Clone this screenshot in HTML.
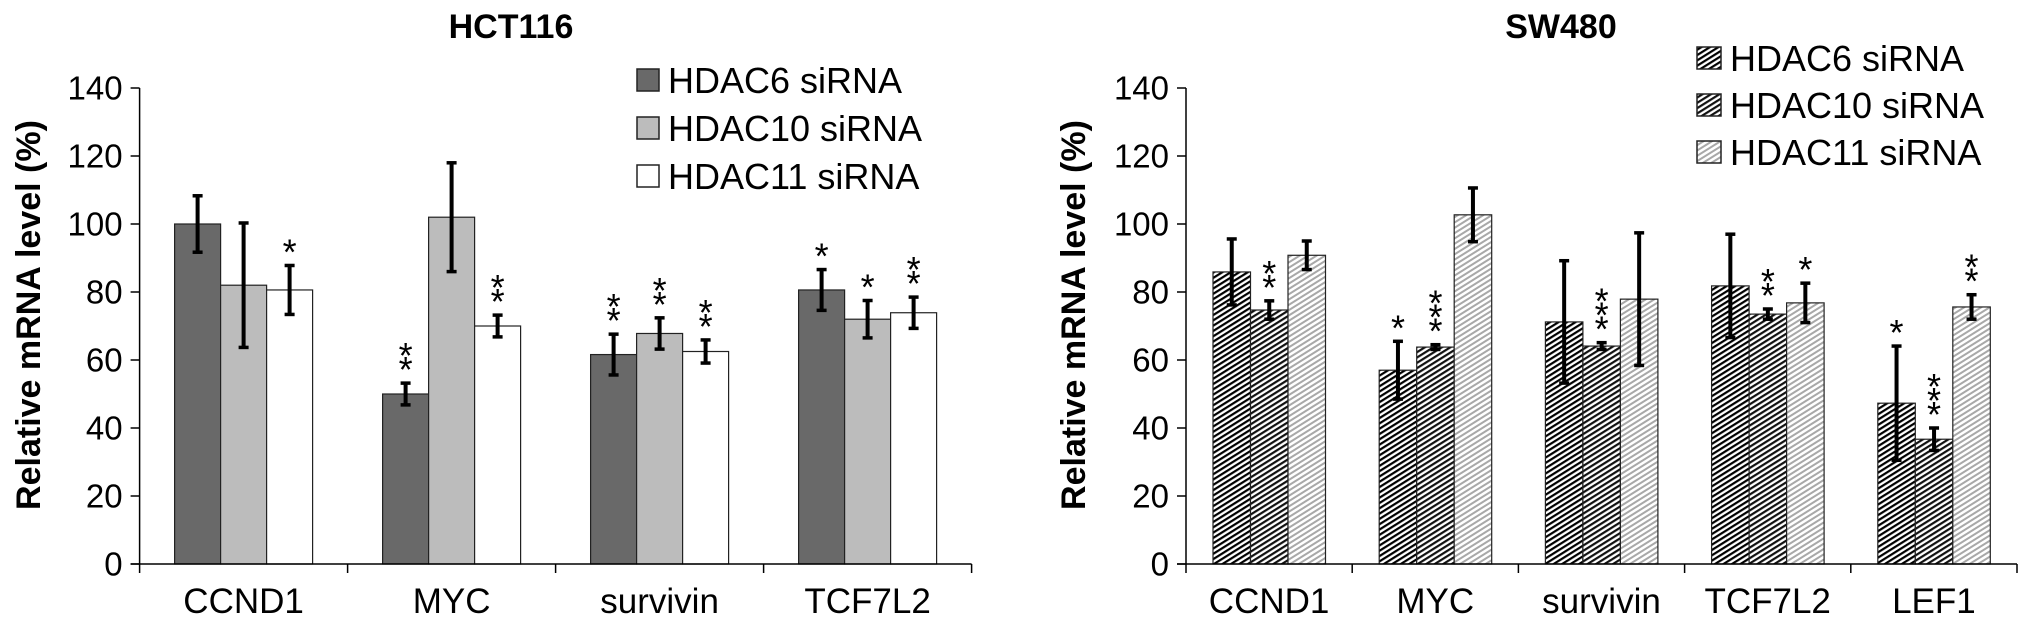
<!DOCTYPE html>
<html><head><meta charset="utf-8"><style>
html,body{margin:0;padding:0;background:#fff;}
svg{display:block;font-family:"Liberation Sans",Arial,sans-serif;}
</style></head><body>
<svg id="chart" width="2031" height="627" viewBox="0 0 2031 627" xmlns="http://www.w3.org/2000/svg">
<defs>
<pattern id="hatchA" patternUnits="userSpaceOnUse" width="7" height="4.5" patternTransform="rotate(-32)">
<rect width="7" height="4.5" fill="#fff"/><rect width="7" height="2.2" fill="#000"/></pattern>
<pattern id="hatchB" patternUnits="userSpaceOnUse" width="7" height="4.5" patternTransform="rotate(-32)">
<rect width="7" height="4.5" fill="#fff"/><rect width="7" height="2.2" fill="#111"/></pattern>
<pattern id="hatchC" patternUnits="userSpaceOnUse" width="7" height="4.5" patternTransform="rotate(-32)">
<rect width="7" height="4.5" fill="#fff"/><rect width="7" height="2" fill="#a8a8a8"/></pattern>
</defs>
</svg>
<script>
// ---- HCT116 data ----
const leftCategories = ["CCND1","MYC","survivin","TCF7L2"];
const leftSeries = ["HDAC6 siRNA","HDAC10 siRNA","HDAC11 siRNA"];
const leftH6 = [100, 50, 61.6, 80.6];
const leftH10 = [82, 102, 67.8, 72];
const leftH11 = [80.6, 70, 62.5, 73.9];
const leftErrH6 = [8.3, 3.2, 6, 6];
const leftErrH10 = [18.3, 16, 4.6, 5.5];
const leftErrH11 = [7.2, 3.2, 3.4, 4.6];
const leftStarsH6 = [0, 2, 2, 1];
const leftStarsH10 = [0, 0, 2, 1];
const leftStarsH11 = [1, 2, 2, 2];
// ---- SW480 data ----
const rightCategories = ["CCND1","MYC","survivin","TCF7L2","LEF1"];
const rightH6 = [85.9, 57, 71.2, 81.8, 47.3];
const rightH10 = [74.7, 63.8, 64.1, 73.5, 36.7];
const rightH11 = [90.8, 102.7, 77.9, 76.8, 75.6];
const rightErrH6 = [9.7, 8.5, 18, 15.2, 16.8];
const rightErrH10 = [2.7, 0.7, 1, 1.5, 3.3];
const rightErrH11 = [4.2, 7.9, 19.5, 5.8, 3.6];
const rightStarsH6 = [0, 1, 0, 0, 1];
const rightStarsH10 = [2, 3, 3, 2, 3];
const rightStarsH11 = [0, 0, 0, 1, 2];
const yTicks = [0,20,40,60,80,100,120,140];

const NS="http://www.w3.org/2000/svg";
const svg=document.getElementById('chart');
function mk(tag,attrs,parent){const e=document.createElementNS(NS,tag);for(const k in attrs)e.setAttribute(k,attrs[k]);(parent||svg).appendChild(e);return e;}

function drawChart(cfg){
  const g=mk('g',{});
  
  
  const x0=cfg.x0, y0=564, yTop=88, gw=cfg.gw;
  const ys=v=>y0-(v/140)*(y0-yTop);
  const n=cfg.cats.length;
  const t=mk('text',{x:cfg.titleX,y:38,'font-size':34,'font-weight':'bold','text-anchor':'middle'},g);
  t.textContent=cfg.title;
  
  
  const yt=mk('text',{x:0,y:0,'font-size':34,'font-weight':'bold','text-anchor':'middle',transform:`translate(${cfg.ytX},${315}) rotate(-90)`},g);
  yt.textContent="Relative mRNA level (%)";
  
  
  yTicks.forEach(v=>{
    const y=ys(v);
    const tl=mk('line',{x1:x0-9,x2:x0,y1:y,y2:y,stroke:'#000','stroke-width':1.5},g);
    
    
    const lb=mk('text',{x:x0-17,y:y+11.5,'font-size':33,'text-anchor':'end'},g);
    lb.textContent=v;
    
    
  });
  const series=[cfg.s1,cfg.s2,cfg.s3], errs=[cfg.e1,cfg.e2,cfg.e3], stars=[cfg.st1,cfg.st2,cfg.st3];
  cfg.cats.forEach((c,i)=>{
    series.forEach((s,j)=>{
      const bx=x0+i*gw+cfg.off+j*cfg.bw;
      const r=mk('rect',{x:bx,y:ys(s[i]),width:cfg.bw,height:y0-ys(s[i]),fill:cfg.fills[j],stroke:'#222','stroke-width':1.2},g);
      
      
      const cx=bx+cfg.bw/2, et=ys(s[i]+errs[j][i]), eb=ys(s[i]-errs[j][i]);
      const eg=mk('g',{stroke:'#000'},g);
      
      
      mk('line',{x1:cx,x2:cx,y1:et,y2:eb,'stroke-width':4},eg);
      mk('line',{x1:cx-5,x2:cx+5,y1:et,y2:et,'stroke-width':3.5},eg);
      mk('line',{x1:cx-5,x2:cx+5,y1:eb,y2:eb,'stroke-width':3.5},eg);
      for(let k=0;k<stars[j][i];k++){
        const st=mk('text',{x:cx,y:et-1-k*14,'font-size':36,'text-anchor':'middle'},g);
        st.textContent='*';
        
        
      }
    });
    const cl=mk('text',{x:x0+(i+0.5)*gw,y:613,'font-size':35,'text-anchor':'middle'},g);
    cl.textContent=c;
    
    
  });
  const ya=mk('line',{x1:x0,x2:x0,y1:yTop,y2:y0,stroke:'#000','stroke-width':1.5},g);
  
  
  const xa=mk('line',{x1:x0-9,x2:x0+n*gw,y1:y0,y2:y0,stroke:'#000','stroke-width':1.5},g);
  
  
  for(let i=0;i<=n;i++){
    const xt=mk('line',{x1:x0+i*gw,x2:x0+i*gw,y1:y0,y2:y0+9,stroke:'#000','stroke-width':1.5},g);
    
    
  }
  leftSeries.forEach((name,j)=>{
    const ly=cfg.legY+j*cfg.legDy;
    const lg=mk('g',{},g);
    
    
    mk('rect',{x:cfg.legX,y:ly-11,width:cfg.legS,height:22,fill:cfg.fills[j],stroke:'#222','stroke-width':1.5},lg);
    const lt=mk('text',{x:cfg.legX+cfg.legS+9,y:ly+13,'font-size':36},lg);
    lt.textContent=name;
  });
}

drawChart({name:'hct116-chart',title:'HCT116',titleX:511,ytX:40,x0:139.6,gw:208,off:35,bw:46,
  cats:leftCategories,s1:leftH6,s2:leftH10,s3:leftH11,e1:leftErrH6,e2:leftErrH10,e3:leftErrH11,
  st1:leftStarsH6,st2:leftStarsH10,st3:leftStarsH11,fills:['#696969','#bcbcbc','#ffffff'],
  legX:637,legY:80,legDy:48,legS:22});
drawChart({name:'sw480-chart',title:'SW480',titleX:1561,ytX:1085,x0:1186,gw:166.2,off:27,bw:37.5,
  cats:rightCategories,s1:rightH6,s2:rightH10,s3:rightH11,e1:rightErrH6,e2:rightErrH10,e3:rightErrH11,
  st1:rightStarsH6,st2:rightStarsH10,st3:rightStarsH11,fills:['url(#hatchA)','url(#hatchB)','url(#hatchC)'],
  legX:1697,legY:58,legDy:47,legS:24});
</script>
</body></html>
